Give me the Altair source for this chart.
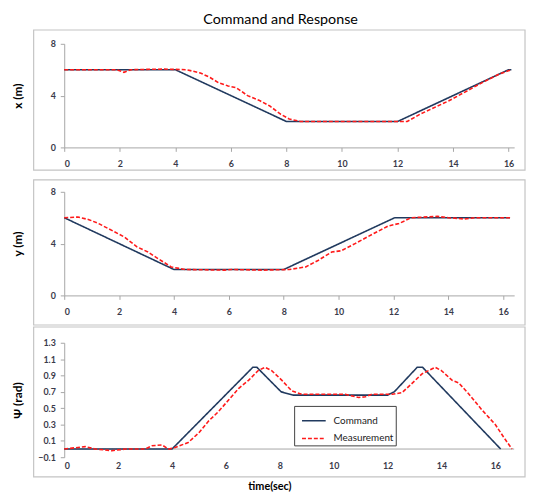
import altair as alt
import pandas as pd

# ---------------- data ----------------
x_ticks = [0, 2, 4, 6, 8, 10, 12, 14, 16]

# panel 1 : x (m)
t_x_cmd = [0, 2, 4, 8, 12, 16, 16.1]
x_cmd = [6, 6, 6, 2, 2, 6, 6]
t_x_meas = [0, 1.9, 2.15, 2.4, 3.6, 4.4, 4.9, 5.25, 5.55, 5.9, 6.2, 6.6, 7.05, 7.4,
            7.8, 8.1, 8.5, 12.05, 12.35, 12.8, 13.85, 15.05, 15.65, 16.1]
x_meas = [6, 6, 5.8, 6, 6.05, 6, 5.75, 5.4, 5.0, 4.75, 4.6, 4.0, 3.6, 3.2,
          2.55, 2.2, 2.0, 2.0, 2.0, 2.55, 3.6, 5.0, 5.65, 6.0]

# panel 2 : y (m)
t_y_cmd = [0, 4, 8, 12.05, 16.25]
y_cmd = [6, 2, 2, 6, 6]
t_y_meas = [0, 0.5, 0.9, 1.25, 1.75, 2.2, 2.65, 3.05, 3.45, 3.9, 4.4, 5.85, 6.1, 7.2,
            8.2, 8.8, 9.25, 9.75, 10.1, 10.6, 11.3, 11.8, 12.2, 12.65, 13.6, 14.0,
            14.6, 14.95, 16.25]
y_meas = [6, 6.05, 5.85, 5.55, 5.0, 4.5, 3.75, 3.35, 2.8, 2.2, 2.0, 1.95, 2.0, 1.95,
          2.0, 2.2, 2.7, 3.35, 3.45, 4.0, 4.8, 5.35, 5.55, 6.0, 6.1, 6.0,
          5.9, 6.0, 6.0]

# panel 3 : psi (rad)
t_psi_cmd = [0, 4, 7.0, 7.15, 8.05, 8.5, 12.0, 12.25, 13.1, 13.3, 16.2]
psi_cmd = [0, 0, 1.0, 1.0, 0.7, 0.66, 0.66, 0.7, 1.0, 1.0, 0]
t_psi_meas = [0, 0.78, 1.15, 1.77, 2.27, 3.0, 3.25, 3.63, 3.87, 4.12, 4.6, 5.0, 5.35,
              5.73, 6.1, 6.47, 6.84, 7.2, 7.45, 7.7, 8.08, 8.45, 8.82, 10.43, 10.93,
              11.18, 11.42, 12.17, 12.54, 12.9, 13.28, 13.77, 14.0, 14.4, 14.64, 15.0,
              15.5, 16.0, 16.3, 16.62]
psi_meas = [0, 0.03, 0, -0.02, 0, 0, 0.04, 0.05, 0, 0.02, 0.08, 0.2, 0.34,
            0.46, 0.6, 0.74, 0.84, 0.96, 1.0, 0.96, 0.84, 0.71, 0.67, 0.67, 0.63,
            0.64, 0.67, 0.67, 0.69, 0.8, 0.92, 1.0, 0.96, 0.84, 0.81, 0.68,
            0.48, 0.3, 0.15, 0]
psi_ticks = [-0.1, 0.1, 0.3, 0.5, 0.7, 0.9, 1.1, 1.3]

series_names = ["Command", "Measurement"]

# ---------------- style ----------------
NAVY = "#213a5f"
RED = "#ff1a1a"
AXIS = "#a6a6a6"
BOX = "#c4c4c4"
LBL = "#3a3a4a"
FONT = "Lato"
W = 456


def make_df(t1, v1, t2, v2):
    return pd.DataFrame({
        "t": t1 + t2,
        "v": v1 + v2,
        "series": [series_names[0]] * len(t1) + [series_names[1]] * len(t2),
    })


one = pd.DataFrame({"k": [0]})
zero_line = pd.DataFrame({"v": [0]})


def panel(df, ytitle, ydom, yvals, yfmt, xdom, h, by0, by1, ext=None, last=False):
    if last:
        xaxis = alt.Axis(values=x_ticks, format="d", title="time(sec)", domain=False,
                         ticks=False, labelPadding=4,
                         titleX=208, titleY=30,
                         titleAlign="center", titleBaseline="middle",
                         titleFontSize=11, titleFontWeight="bold", titleColor="#000000")
    else:
        xaxis = alt.Axis(values=x_ticks, format="d", title=None, labelPadding=8)
    if last:
        leg = alt.Legend(title=None, orient="none", legendX=233, legendY=64,
                         strokeColor="#404040", fillColor="white", padding=2,
                         symbolType="stroke", symbolSize=576, symbolStrokeWidth=1.6,
                         symbolOffset=5,
                         labelFontSize=10, labelFont=FONT, labelColor="#222222",
                         rowPadding=0, labelOffset=7)
    else:
        leg = None
    color = alt.Color("series:N",
                      scale=alt.Scale(domain=series_names, range=[NAVY, RED]),
                      legend=leg)
    dash = alt.StrokeDash("series:N",
                          scale=alt.Scale(domain=series_names, range=[[1, 0], [4, 2]]),
                          legend=leg)
    yscale = alt.Scale(domain=ydom, nice=False, zero=False)
    yaxis = alt.Axis(values=yvals, format=yfmt, title=ytitle, labelPadding=5,
                     labelOverlap=False,
                     titleX=-47, titleY=h / 2, titleAlign="center",
                     titleBaseline="middle", titleAngle=270,
                     titleFontSize=12, titleFontWeight="bold",
                     titleColor="#000000")
    lines = alt.Chart(df).mark_line(strokeWidth=1.6).encode(
        x=alt.X("t:Q", scale=alt.Scale(domain=xdom, nice=False, zero=False), axis=xaxis),
        y=alt.Y("v:Q", scale=yscale, axis=yaxis),
        color=color,
        strokeDash=dash,
    )
    box = alt.Chart(one).mark_rect(fillOpacity=0, stroke=BOX, strokeWidth=1.2).encode(
        x=alt.value(-31), x2=alt.value(467), y=alt.value(by0), y2=alt.value(by1))
    layers = [box]
    if ext is not None:
        layers.append(alt.Chart(one).mark_rect(opacity=0).encode(
            x=alt.value(-31), x2=alt.value(-30), y=alt.value(by0), y2=alt.value(ext)))
    if last:
        layers.append(alt.Chart(zero_line).mark_rule(color=AXIS, strokeWidth=1).encode(
            y=alt.Y("v:Q", scale=yscale, axis=yaxis)))
    layers.append(lines)
    return alt.layer(*layers).properties(width=W, height=h)


p1 = panel(make_df(t_x_cmd, x_cmd, t_x_meas, x_meas), "x (m)", [0, 8], [0, 4, 8], "d",
           [0, 16.2], 105, -14, 128, ext=137)
p2 = panel(make_df(t_y_cmd, y_cmd, t_y_meas, y_meas), "y (m)", [0, 8], [0, 4, 8], "d",
           [0, 16.4], 105, -12, 135)
p3 = panel(make_df(t_psi_cmd, psi_cmd, t_psi_meas, psi_meas), "Ψ (rad)", [-0.1, 1.3],
           psi_ticks, ".1f", [0, 16.7], 116, -16, 136, last=True)

chart = alt.vconcat(p1, p2, p3, spacing=0).resolve_scale(
    color="independent", strokeDash="independent"
).resolve_legend(
    color="independent", strokeDash="independent"
).properties(
    title=alt.TitleParams("Command and Response", fontSize=14.5, font=FONT,
                          fontWeight="normal", color="#000000", anchor="middle",
                          offset=2, dx=12),
    padding={"left": 4, "top": 0, "right": 0, "bottom": 0},
).configure_view(stroke=None).configure_axis(
    grid=False, domainColor=AXIS, tickColor=AXIS, tickSize=4,
    labelFont=FONT, labelFontSize=9, labelFontWeight="bold", labelColor=LBL,
    titleFont=FONT,
)

chart.save("out.html", embed_options={"renderer": "svg", "actions": False})
